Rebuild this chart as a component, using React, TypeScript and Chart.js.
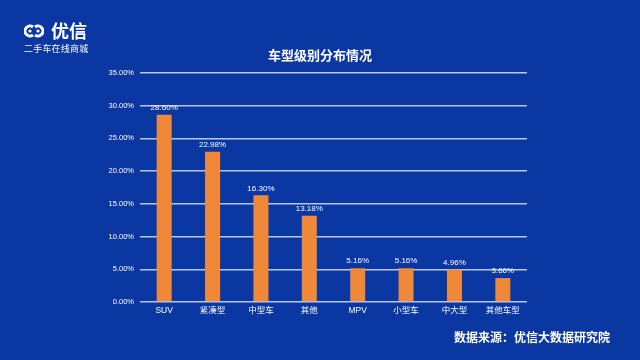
import React, { useEffect, useRef } from "react";
import { Chart, registerables } from "chart.js";

Chart.register(...registerables);

const categories = ["SUV", "紧凑型", "中型车", "其他", "MPV", "小型车", "中大型", "其他车型"];
const shares = [28.6, 22.98, 16.3, 13.18, 5.16, 5.16, 4.96, 3.66];
const yTicks = [0, 5, 10, 15, 20, 25, 30, 35];

const BG = "#0b37a3";
const BAR = "#f0883a";
const GRID = "#b9c9ee";
const FONT = "'Liberation Sans', 'Noto Sans CJK SC', sans-serif";

const labelPlugin = {
  id: "barLabels",
  afterDatasetsDraw(chart: any) {
    const ctx = chart.ctx;
    const meta = chart.getDatasetMeta(0);
    ctx.save();
    ctx.fillStyle = "#ffffff";
    ctx.font = `8px ${FONT}`;
    ctx.textAlign = "center";
    ctx.textBaseline = "bottom";
    meta.data.forEach((el: any, i: number) => {
      ctx.fillText(shares[i].toFixed(2) + "%", el.x, el.y - 3);
    });
    ctx.restore();
  },
};

export default function App() {
  const ref = useRef<HTMLCanvasElement>(null);
  useEffect(() => {
    if (!ref.current) return;
    const chart = new Chart(ref.current, {
      type: "bar",
      data: {
        labels: categories,
        datasets: [
          {
            data: shares,
            backgroundColor: BAR,
            barPercentage: 0.31,
            categoryPercentage: 1,
          },
        ],
      },
      options: {
        animation: false,
        responsive: false,
        maintainAspectRatio: false,
        layout: { padding: { left: 0, right: 113, top: 73, bottom: 38 } },
        plugins: {
          legend: { display: false },
          tooltip: { enabled: false },
          title: { display: false },
        },
        scales: {
          x: {
            grid: { display: false, drawTicks: false },
            border: { display: false },
            ticks: { color: "#ffffff", font: { size: 8.5, family: FONT }, padding: 4 },
            afterFit: (s: any) => {
              s.height = 20;
            },
          },
          y: {
            min: 0,
            max: 35,
            afterBuildTicks: (s: any) => {
              s.ticks = yTicks.map((v) => ({ value: v }));
            },
            grid: { color: GRID, lineWidth: 1.5, drawTicks: false },
            border: { display: false },
            ticks: {
              color: "#ffffff",
              font: { size: 7.5, family: FONT },
              padding: 6,
              callback: (v: any) => Number(v).toFixed(2) + "%",
            },
            afterFit: (s: any) => {
              s.width = 140;
            },
          },
        },
      },
      plugins: [labelPlugin],
    });
    return () => chart.destroy();
  }, []);

  return (
    <div
      style={{
        position: "fixed",
        left: 0,
        top: 0,
        width: 640,
        height: 360,
        background: BG,
        fontFamily: FONT,
        color: "#fff",
        overflow: "hidden",
      }}
    >
      <canvas ref={ref} width={640} height={360} style={{ position: "absolute", left: 0, top: 0 }} />
      <svg width="20" height="14" viewBox="0 0 20 14" style={{ position: "absolute", left: 24, top: 24 }}>
        <path d="M9 3 A5 5 0 1 0 9 11" fill="none" stroke="#fff" strokeWidth="3" />
        <path d="M11 11 A5 5 0 1 0 11 3" fill="none" stroke="#fff" strokeWidth="3" />
        <circle cx="6" cy="7" r="1.6" fill="#fff" />
        <circle cx="14" cy="7" r="1.6" fill="#fff" />
      </svg>
      <div
        style={{
          position: "absolute",
          left: 51,
          top: 19,
          fontSize: 18,
          fontWeight: "bold",
          lineHeight: "22px",
          fontFamily: "'Noto Sans CJK SC', sans-serif",
        }}
      >
        优信
      </div>
      <div
        style={{
          position: "absolute",
          left: 24,
          top: 43,
          fontSize: 9,
          lineHeight: "11px",
          letterSpacing: 0.2,
          fontFamily: "'Noto Sans CJK SC', sans-serif",
        }}
      >
        二手车在线商城
      </div>
      <div
        style={{
          position: "absolute",
          left: 0,
          width: 640,
          top: 46,
          textAlign: "center",
          fontSize: 13,
          fontWeight: "bold",
          lineHeight: "18px",
          fontFamily: "'Noto Sans CJK SC', sans-serif",
        }}
      >
        车型级别分布情况
      </div>
      <div
        style={{
          position: "absolute",
          left: 454,
          top: 329,
          fontSize: 12,
          fontWeight: "bold",
          lineHeight: "16px",
          whiteSpace: "nowrap",
          fontFamily: "'Noto Sans CJK SC', sans-serif",
        }}
      >
        数据来源：优信大数据研究院
      </div>
    </div>
  );
}
